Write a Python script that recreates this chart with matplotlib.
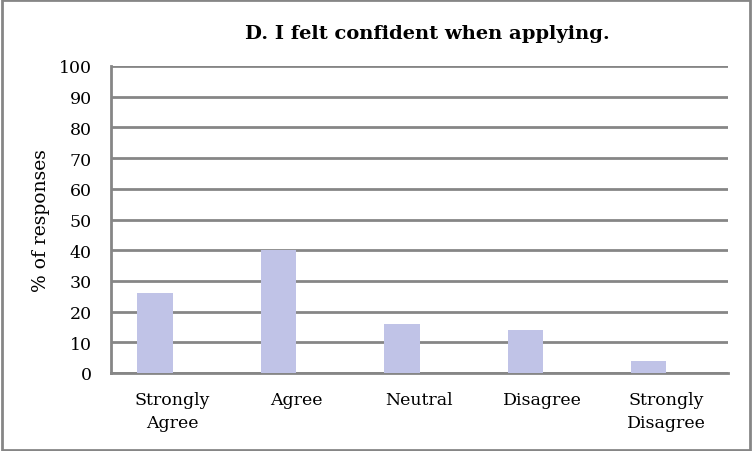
import matplotlib
matplotlib.use("Agg")
import matplotlib.pyplot as plt
import numpy as np
from matplotlib.patches import Rectangle

categories = ["Strongly\nAgree", "Agree", "Neutral", "Disagree", "Strongly\nDisagree"]
values = [26, 40, 16, 14, 4]
yticks = [0, 10, 20, 30, 40, 50, 60, 70, 80, 90, 100]
title = "D. I felt confident when applying."
ylabel = "% of responses"

plt.rcParams['font.family'] = ['DejaVu Serif']

fig = plt.figure(figsize=(7.52, 4.52), dpi=100)
ax = fig.add_axes([111/752, 1-374/452, (728-111)/752, (374-67)/452])

grid_c = "#868686"
bar_c = "#C0C3E7"

x = np.arange(len(categories))
bw = 1/3.5
ax.bar(x - bw/2, values, width=bw, color=bar_c, zorder=3)

ax.set_xlim(-0.5, len(categories) - 0.5)
ax.set_ylim(0, 100)
ax.set_yticks(yticks)
ax.set_yticklabels([str(t) for t in yticks], fontsize=12.5)
ax.set_xticks(x)
ax.set_xticklabels(categories, fontsize=12.5, linespacing=1.45)
ax.tick_params(axis='y', length=0, pad=14)
ax.tick_params(axis='x', length=0, pad=13)
ax.grid(axis='y', color=grid_c, linewidth=2, zorder=1)
ax.set_axisbelow(True)
for s in ['top', 'right']:
    ax.spines[s].set_visible(False)
for s in ['left', 'bottom']:
    ax.spines[s].set_color(grid_c)
    ax.spines[s].set_linewidth(2)

ax.set_ylabel(ylabel, fontsize=13.5, labelpad=6)
fig.text(427/752, 1-34/452, title, fontsize=14, fontweight='bold', ha='center', va='center')

fig.patches.append(Rectangle((0.002, 0.003), 0.995, 0.994, transform=fig.transFigure,
                             fill=False, edgecolor=grid_c, linewidth=2))

fig.savefig("out.png", dpi=100)
